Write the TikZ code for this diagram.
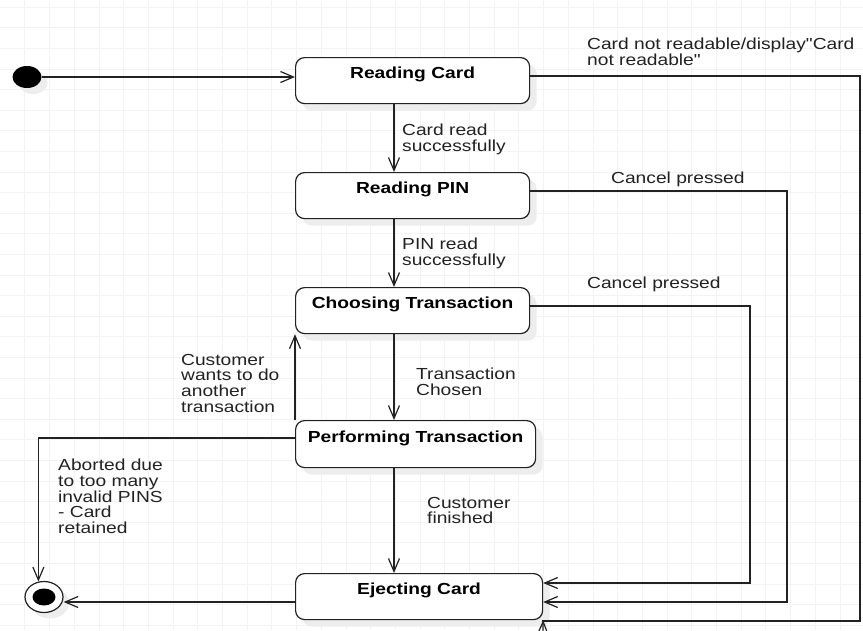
\documentclass[tikz,border=0pt]{standalone}
\usepackage{fontspec}
\setmainfont{Liberation Sans}[FakeStretch=1.2, Ligatures=TeXOff]
\usetikzlibrary{arrows.meta,shapes.geometric,shadows}

\definecolor{inkgray}{HTML}{222222}
\definecolor{gridgray}{HTML}{F3F3F3}
\definecolor{shadowgray}{HTML}{EDEDED}

\tikzset{
  state/.style={draw=inkgray, line width=1.2pt, rounded corners=9pt, fill=white,
    anchor=north west, minimum width=234pt, inner sep=0pt,
    text height=21pt, text depth=25pt, text=black,
    font=\fontsize{16}{16}\selectfont\bfseries,
    drop shadow={shadow xshift=7pt, shadow yshift=-7pt, fill=shadowgray, opacity=1}},
  pseudo/.style={ellipse, inner sep=0pt,
    drop shadow={shadow xshift=6pt, shadow yshift=-6pt, fill=shadowgray, opacity=1}},
  trans/.style={draw=inkgray, line width=1.2pt, -{Straight Barb[length=13pt,width=11pt]}},
  link/.style={draw=inkgray, line width=1.2pt},
  guard/.style={anchor=north west, inner sep=0pt, align=left, text=inkgray,
    font=\fontsize{16}{15.6}\selectfont},
  gridline/.style={draw=gridgray, line width=0.6pt},
}

\begin{document}
\begin{tikzpicture}[x=1pt, y=-1pt]
    % Canvas and background grid
    \fill[white] (0,0) rectangle (863,630);
    \useasboundingbox (0,0) rectangle (863,630);
    \foreach \gx in {24.7,49.4,...,863} \draw[gridline] (\gx,0) -- (\gx,630);
    \foreach \gy in {7,27.6,...,630} \draw[gridline] (0,\gy) -- (863,\gy);

    % States
    \node[state] (rc) at (295,57) {Reading Card};
    \node[state] (rp) at (295,172) {Reading PIN};
    \node[state] (ct) at (295,287) {Choosing Transaction};
    \node[state, minimum width=240pt, text height=22pt] (pt) at (295,420) {Performing Transaction};
    \node[state, minimum width=247pt] (ec) at (295,573) {Ejecting Card};

    % Initial and final pseudo states
    \node[pseudo, fill=black, minimum width=29pt, minimum height=22pt] (init) at (27,77) {};
    \node[pseudo, draw=inkgray, line width=1.2pt, fill=white, minimum width=38pt, minimum height=31pt] (fin) at (44,597) {};
    \node[ellipse, inner sep=0pt, fill=black, minimum width=23pt, minimum height=17pt] (findot) at (fin) {};

    % Main flow down the middle
    \coordinate (mid) at (394,0);
    \draw[trans] (init.east) -- (rc.west |- init.east);
    \draw[trans] (rc.south -| mid) -- (rp.north -| mid);
    \draw[trans] (rp.south -| mid) -- (ct.north -| mid);
    \draw[trans] (ct.south -| mid) -- (pt.north -| mid);
    \draw[trans] (pt.south -| mid) -- (ec.north -| mid);
    \draw[trans] (pt.north west) -- (ct.south west);

    % Ways out on the left
    \draw[trans] (pt.west |- 0,438) -| (fin.110);
    \draw[trans] (ec.west |- 0,602) -- (fin.east |- 0,602);

    % Ways out on the right
    \draw[trans] (ct.east |- 0,306) -| (750,583) -- (ec.east |- 0,583);
    \draw[trans] (rp.east |- 0,191) -| (787,602) -- (ec.east |- 0,602);
    \draw[link] (rc.east |- 0,76) -- (860,76) -- (860,621) -- (542,621);
    \coordinate (below) at (542,660);
    \draw[trans] (below) -- (ec.south east);

    % Transition labels
    \node[guard] (readok) at (402,124) {Card read\\successfully};
    \node[guard] (pinok) at (402,238) {PIN read\\successfully};
    \node[guard] (chosen) at (416,368) {Transaction\\Chosen};
    \node[guard] (again) at (181,354) {Customer\\wants to do\\another\\transaction};
    \node[guard] (done) at (427,497) {Customer\\finished};
    \node[guard] (abort) at (58,459) {Aborted due\\to too many\\invalid PINS\\- Card\\retained};
    \node[guard] (cancelct) at (587,277) {Cancel pressed};
    \node[guard] (cancelrp) at (611,172) {Cancel pressed};
    \node[guard] (badcard) at (587,38) {Card not readable/display"Card\\not readable"};
\end{tikzpicture}
\end{document}
